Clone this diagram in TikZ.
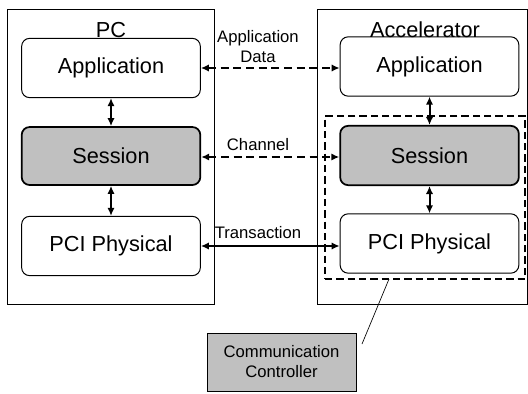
\documentclass[tikz,border=0pt]{standalone}
\usepackage{fontspec}
\setmainfont{Liberation Sans}
\usetikzlibrary{arrows.meta,fit}
\definecolor{boxgray}{HTML}{C0C0C0}
\tikzset{
  outer/.style={draw, line width=0.75pt, inner sep=0pt},
  layer/.style={draw, line width=0.75pt, rounded corners=6pt, inner sep=0pt,
     minimum width=134pt, minimum height=44.5pt, font=\fontsize{16.3}{19}\selectfont},
  graylayer/.style={layer, fill=boxgray, line width=1.3pt},
  biarrow/.style={{Latex[length=6pt,width=5.5pt]}-{Latex[length=6pt,width=5.5pt]}, line width=1.5pt},
  dasharrow/.style={biarrow, dash pattern=on 6pt off 3.5pt},
  lbl/.style={font=\fontsize{12.5}{15}\selectfont, align=center, inner sep=0pt},
  title/.style={font=\fontsize{16.3}{19}\selectfont, inner sep=0pt}
}
\begin{document}
\begin{tikzpicture}[x=0.75pt,y=-0.75pt]
\useasboundingbox (0,0) rectangle (528,393);
% outer boxes
\node[outer, fit={(7,9)(214,304)}] (pc) {};
\node[outer, fit={(317,9)(527,304)}] (acc) {};
\node[title] (pct) at (111,30) {PC};
\node[title] (acct) at (425,30) {Accelerator};
% PC layers
\node[layer] (pcapp) at (111,68) {Application};
\node[graylayer, minimum height=43.5pt] (pcsess) at (111,156) {Session};
\node[layer] (pcphy) at (111,246) {PCI Physical};
% Accelerator layers
\node[layer] (accapp) at (429.5,66.5) {Application};
\node[graylayer] (accsess) at (429.5,155.5) {Session};
\node[layer] (accphy) at (429.5,243.5) {PCI Physical};
% dashed controller region
\node[draw, line width=1.5pt, dash pattern=on 5.5pt off 3pt, inner sep=0pt, fit={(325,116)(525,279)}] (ctrlregion) {};
% vertical arrows
\draw[biarrow] (pcapp) -- (pcsess);
\draw[biarrow] (pcsess) -- (pcphy);
\draw[biarrow] (accapp) -- (accsess);
\draw[biarrow] (accsess) -- (accphy);
% horizontal arrows
\draw[dasharrow] (pcapp.east |- 0,68) -- (accapp.west |- 0,68);
\draw[dasharrow] (pcsess.east |- 0,157) -- (accsess.west |- 0,157);
\draw[biarrow] (pcphy.east |- 0,246) -- (accphy.west |- 0,246);
\node[lbl] (lappdata) at (258,47) {Application\\Data};
\node[lbl] (lchannel) at (258,145) {Channel};
\node[lbl] (ltrans) at (258,233) {Transaction};
% communication controller
\node[draw, line width=0.75pt, fill=boxgray, inner sep=0pt, minimum width=111.75pt, minimum height=43.5pt, align=center, font=\fontsize{12.5}{15}\selectfont] (cc) at (281.5,362) {Communication\\Controller};
\coordinate (la) at (389,279);
\coordinate (lb) at (362,344);
\draw[line width=0.5pt] (la) -- (lb);
\end{tikzpicture}
\end{document}
